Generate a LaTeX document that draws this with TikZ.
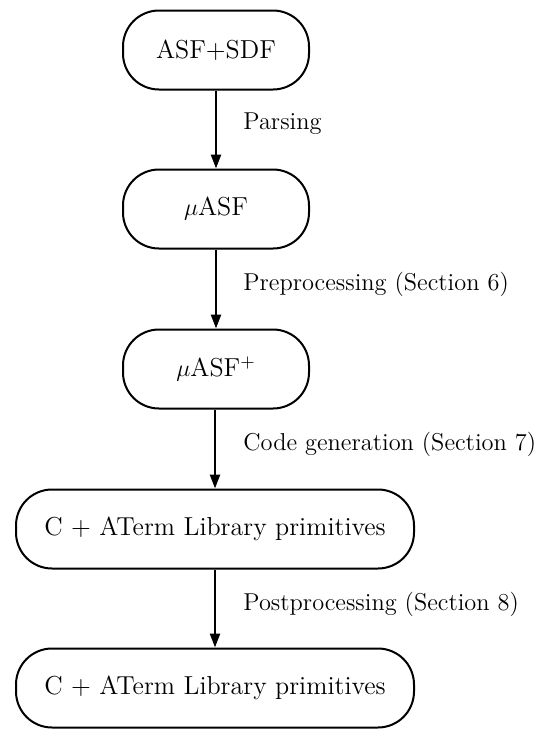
\documentclass[tikz,border=0pt]{standalone}
\usetikzlibrary{arrows.meta}
\begin{document}
\begin{tikzpicture}[x=0.5pt,y=-0.5pt,
  stage/.style={draw, line width=1pt, rectangle, rounded corners=18pt,
    minimum height=39.5pt, inner sep=0pt, font=\fontsize{13}{16}\selectfont},
  narrowstage/.style={stage, minimum width=93pt},
  widestage/.style={stage, minimum width=199pt},
  flow/.style={line width=1.2pt, -{Triangle[length=7pt,width=5pt]}},
  steplabel/.style={anchor=west, inner sep=0pt, font=\fontsize{12.2}{14}\selectfont}]
  \useasboundingbox (0,0) rectangle (548,730);

  \node[narrowstage] (src)  at (216,50)  {ASF+SDF};
  \node[narrowstage] (mu)   at (216,209) {$\mu$ASF};
  \node[narrowstage] (mup)  at (216,369) {$\mu$ASF$^{+}$};
  \node[widestage]   (gen)  at (215,529) {C + ATerm Library primitives};
  \node[widestage]   (post) at (215,688) {C + ATerm Library primitives};

  \draw[flow] (src.south) -- (mu.north);
  \draw[flow] (mu.south) -- (mup.north);
  \draw[flow] (mup.south -| gen.north) -- (gen.north);
  \draw[flow] (gen.south) -- (post.south |- post.north);

  \node[steplabel] (l1) at (243,124) {Parsing};
  \node[steplabel] (l2) at (243,284) {Preprocessing (Section 6)};
  \node[steplabel] (l3) at (243,444) {Code generation (Section 7)};
  \node[steplabel] (l4) at (243,604) {Postprocessing (Section 8)};
\end{tikzpicture}
\end{document}
